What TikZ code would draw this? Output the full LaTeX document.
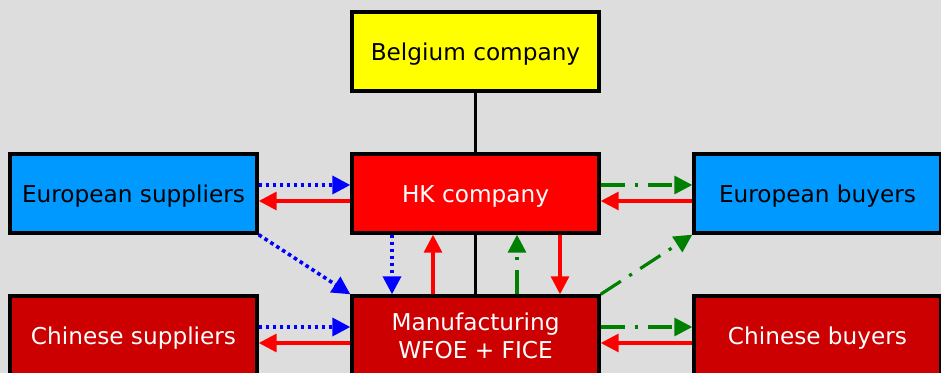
\documentclass[tikz,border=0pt]{standalone}
\usepackage{fontspec}
\setmainfont{DejaVu Sans}
\usetikzlibrary{arrows.meta}
\definecolor{bggray}{HTML}{DDDDDD}
\definecolor{boxyellow}{HTML}{FFFF00}
\definecolor{boxred}{HTML}{FF0000}
\definecolor{boxdarkred}{HTML}{CC0000}
\definecolor{boxblue}{HTML}{0099FF}
\definecolor{arrblue}{HTML}{0000FF}
\definecolor{arrgreen}{HTML}{008000}
\tikzset{
  box/.style={draw=black,line width=1.7pt,minimum width=123.5pt,minimum height=39.5pt,
    inner sep=0pt,align=center,font=\fontsize{11.6}{14}\selectfont},
  oneline/.style={text height=9.5pt,text depth=0pt},
  tip/.style={-{Triangle[length=9pt,width=9pt]}},
  goods/.style={tip,arrblue,line width=1.8pt,dash pattern=on 1.8pt off 1.7pt},
  money/.style={tip,boxred,line width=1.6pt},
  sales/.style={tip,arrgreen,line width=1.6pt,dash pattern=on 12pt off 5pt on 1.6pt off 5pt},
}
\begin{document}
\begin{tikzpicture}[x=0.5pt,y=0.5pt]
\useasboundingbox (0,0) rectangle (941,373);
\fill[bggray] (0,0) rectangle (941,373);
\clip (0,0) rectangle (941,373);
% boxes
\node[box,oneline,fill=boxyellow] (belgium) at (475.5,321.5) {Belgium company};
\node[box,oneline,fill=boxred,text=white] (hk) at (475.5,179.5) {HK company};
\node[box,oneline,fill=boxblue] (eusup) at (133.5,179.5) {European suppliers};
\node[box,oneline,fill=boxblue] (eubuy) at (817.5,179.5) {European buyers};
\node[box,oneline,fill=boxdarkred,text=white] (cnsup) at (133.5,37.5) {Chinese suppliers};
\node[box,fill=boxdarkred,text=white] (manuf) at (475.5,37.5) {Manufacturing\\WFOE + FICE};
\node[box,oneline,fill=boxdarkred,text=white] (cnbuy) at (817.5,37.5) {Chinese buyers};
% ownership
\draw[line width=1.6pt] (belgium) -- (hk);
\draw[line width=1.6pt] (hk) -- (manuf);
% top row
\draw[goods] ([yshift=4.25pt]eusup.east) -- ([yshift=4.25pt]hk.west);
\draw[money] ([yshift=-3.75pt]hk.west) -- ([yshift=-3.75pt]eusup.east);
\draw[sales] ([yshift=4.25pt]hk.east) -- ([yshift=4.25pt]eubuy.west);
\draw[money] ([yshift=-3.75pt]eubuy.west) -- ([yshift=-3.75pt]hk.east);
% between HK and manufacturing
\draw[goods] ([xshift=-41.75pt]hk.south) -- ([xshift=-41.75pt]manuf.north);
\draw[money] ([xshift=-21.25pt]manuf.north) -- ([xshift=-21.25pt]hk.south);
\draw[sales] ([xshift=20.75pt]manuf.north) -- ([xshift=20.75pt]hk.south);
\draw[money] ([xshift=42.25pt]hk.south) -- ([xshift=42.25pt]manuf.north);
% diagonals
\draw[goods] (eusup.south east) -- (manuf.north west);
\draw[sales] (manuf.north east) -- (eubuy.south west);
% bottom row
\draw[goods] ([yshift=4.25pt]cnsup.east) -- ([yshift=4.25pt]manuf.west);
\draw[money] ([yshift=-3.75pt]manuf.west) -- ([yshift=-3.75pt]cnsup.east);
\draw[sales] ([yshift=4.25pt]manuf.east) -- ([yshift=4.25pt]cnbuy.west);
\draw[money] ([yshift=-3.75pt]cnbuy.west) -- ([yshift=-3.75pt]manuf.east);
\end{tikzpicture}
\end{document}
